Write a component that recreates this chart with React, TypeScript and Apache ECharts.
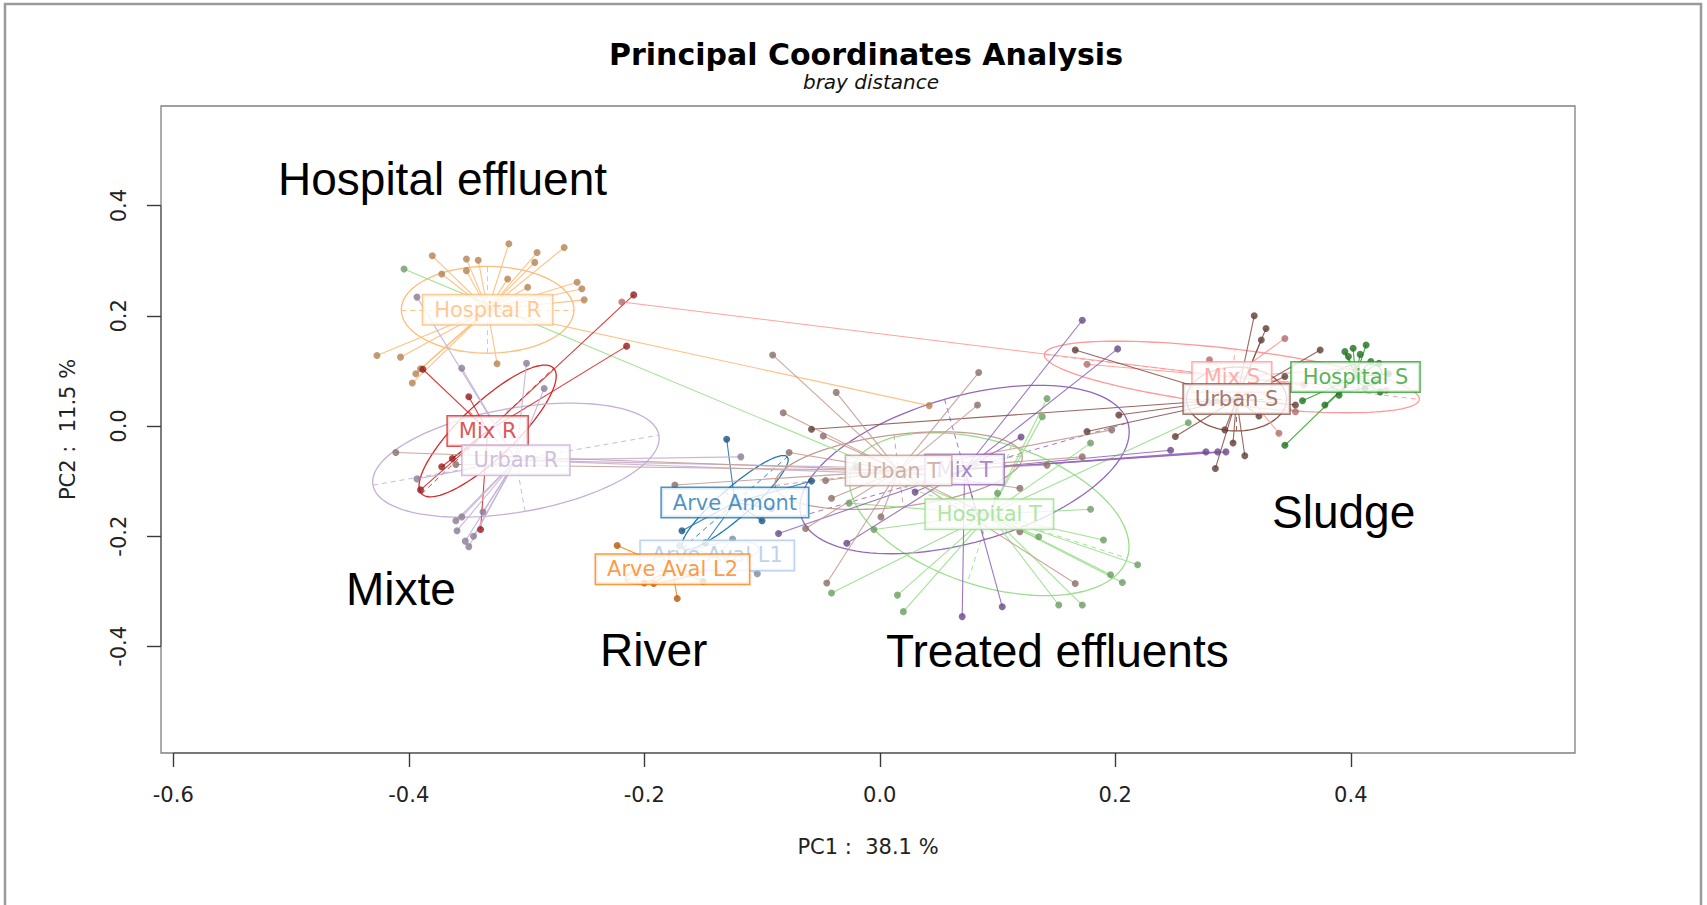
import React, { useEffect, useRef } from "react";
import * as echarts from "echarts";

type Pt = [number, number];

// Axis ranges and tick labels
const X_MIN = -0.6104;
const X_MAX = 0.5904;
const Y_MIN = -0.5936;
const Y_MAX = 0.5809;
const xTicks = [-0.6, -0.4, -0.2, 0, 0.2, 0.4];
const yTicks = [-0.4, -0.2, 0, 0.2, 0.4];

// Groups (factor levels) and their colours
const groupNames = [
  "Arve Amont", "Arve Aval L1", "Arve Aval L2",
  "Hospital R", "Hospital S", "Hospital T",
  "Mix R", "Mix S", "Mix T",
  "Urban R", "Urban S", "Urban T",
];
const groupColors = [
  "#1f77b4", "#aec7e8", "#ff7f0e",
  "#ffbb78", "#2ca02c", "#98df8a",
  "#d62728", "#ff9896", "#9467bd",
  "#c5b0d5", "#8c564b", "#c49c94",
];

// Group centroids (PC1, PC2)
const centroids: Pt[] = [
  [-0.123, -0.139], [-0.138, -0.235], [-0.176, -0.260],
  [-0.333, 0.211], [0.404, 0.089], [0.093, -0.160],
  [-0.333, -0.009], [0.299, 0.089], [0.072, -0.079],
  [-0.309, -0.062], [0.303, 0.049], [0.016, -0.081],
];

// Inertia ellipses: two conjugate semi-axes per group
const ellipseAxes: [Pt, Pt][] = [
  [[0.0444, 0.0829], [0.0084, -0.0205]],
  [[0.035, 0.015], [-0.004, 0.02]],
  [[0.04, 0.02], [-0.004, 0.018]],
  [[0.0733, 0], [0, 0.0787]],
  [[0.022, 0.012], [-0.003, 0.022]],
  [[0.1172, -0.0799], [-0.0186, -0.1245]],
  [[0.056, 0.114], [0.016, -0.036]],
  [[0.1592, -0.0408], [0.0028, 0.0505]],
  [[0.1388, 0.0846], [0.017, -0.1274]],
  [[0.1214, 0.0454], [0.0077, -0.093]],
  [[0.0425, 0], [0, 0.058]],
  [[0.105, 0.027], [0.004, -0.065]],
];

// Sample coordinates per group
const arveAmont: Pt[] = [
  [-0.130, -0.024], [-0.058, -0.100], [-0.100, -0.172], [-0.148, -0.212],
  [-0.168, -0.190], [-0.092, -0.150],
];
const arveAvalL1: Pt[] = [
  [-0.104, -0.268], [-0.170, -0.218], [-0.125, -0.205], [-0.160, -0.250],
];
const arveAvalL2: Pt[] = [
  [-0.223, -0.217], [-0.172, -0.313], [-0.200, -0.285], [-0.150, -0.282], [-0.192, -0.286],
];
const hospitalR: Pt[] = [
  [-0.315, 0.331], [-0.268, 0.324], [-0.291, 0.315], [-0.380, 0.309], [-0.351, 0.303],
  [-0.341, 0.301], [-0.293, 0.297], [-0.351, 0.282], [-0.372, 0.276], [-0.316, 0.267],
  [-0.299, 0.252], [-0.257, 0.261], [-0.253, 0.249], [-0.251, 0.229], [-0.407, 0.125],
  [-0.427, 0.128], [-0.325, 0.113], [-0.390, 0.104], [-0.394, 0.095], [-0.397, 0.078],
  [0.042, 0.037],
];
const hospitalS: Pt[] = [
  [0.395, 0.135], [0.402, 0.141], [0.413, 0.147], [0.398, 0.126], [0.408, 0.130],
  [0.417, 0.117], [0.424, 0.114], [0.425, 0.062], [0.412, 0.068], [0.390, 0.056],
  [0.378, 0.038], [0.344, -0.035], [0.359, 0.046], [0.432, 0.095], [0.420, 0.080],
];
const hospitalT: Pt[] = [
  [-0.404, 0.285], [-0.041, -0.303], [0.015, -0.307], [0.020, -0.337], [0.100, -0.122],
  [0.179, -0.151], [0.190, -0.207], [0.219, -0.252], [0.196, -0.270], [0.206, -0.284],
  [0.152, -0.325], [0.172, -0.325], [0.135, -0.201], [-0.005, -0.188], [-0.026, -0.140],
  [0.142, 0.050], [0.138, 0.017], [0.262, 0.006], [0.179, -0.031],
];
const mixR: Pt[] = [
  [-0.209, 0.238], [-0.215, 0.145], [-0.388, 0.103], [-0.349, 0.053],
  [-0.363, -0.059], [-0.372, -0.074], [-0.390, -0.116], [-0.339, -0.188],
];
const mixS: Pt[] = [
  [-0.219, 0.225], [0.176, 0.112], [0.344, 0.159], [0.339, -0.013], [0.353, 0.026],
  [0.430, 0.065], [0.405, 0.105], [0.280, 0.120], [0.360, 0.075],
];
const mixT: Pt[] = [
  [0.172, 0.192], [0.202, 0.140], [0.104, -0.328], [0.070, -0.346], [-0.028, -0.213],
  [-0.086, -0.195], [0.247, -0.044], [0.277, -0.047], [0.287, -0.047], [0.294, -0.047],
  [0.120, -0.020], [0.030, -0.120],
];
const urbanR: Pt[] = [
  [-0.393, 0.234], [-0.355, 0.105], [-0.300, 0.114], [-0.285, 0.068], [-0.393, -0.096],
  [-0.360, -0.172], [-0.355, -0.165], [-0.359, -0.190], [-0.352, -0.209], [-0.349, -0.219],
  [-0.337, -0.156], [-0.345, -0.200], [-0.118, -0.056], [-0.020, -0.075], [0.050, -0.090],
];
const urbanS: Pt[] = [
  [0.318, 0.200], [0.328, 0.177], [0.324, 0.156], [0.374, 0.138], [0.344, 0.090],
  [0.353, 0.038], [0.322, 0.018], [0.310, -0.054], [0.300, -0.031], [0.285, -0.077],
  [0.293, -0.007], [0.251, -0.019], [0.203, 0.020], [0.176, -0.010], [0.166, 0.138],
  [-0.058, -0.006],
];
const urbanT: Pt[] = [
  [-0.411, -0.048], [-0.360, -0.070], [-0.091, 0.129], [-0.037, 0.061], [-0.082, 0.024],
  [-0.077, -0.048], [-0.046, -0.099], [-0.041, -0.131], [-0.063, -0.186], [-0.174, -0.107],
  [0.001, -0.165], [0.084, 0.097], [0.083, 0.038], [-0.048, -0.018], [-0.045, -0.285],
  [0.166, -0.286], [0.142, -0.071], [0.119, -0.113], [0.119, -0.192], [0.172, -0.056],
  [0.197, -0.007],
];

const groupPoints: Pt[][] = [
  arveAmont, arveAvalL1, arveAvalL2,
  hospitalR, hospitalS, hospitalT,
  mixR, mixS, mixT,
  urbanR, urbanS, urbanT,
];

// Free-text annotations placed on the figure
const annotations = [
  { text: "Hospital effluent", x: 278, y: 179 },
  { text: "Mixte", x: 346, y: 589 },
  { text: "River", x: 600, y: 650 },
  { text: "Treated effluents", x: 886, y: 651 },
  { text: "Sludge", x: 1272, y: 512 },
];

function shade(hex: string, f: number): string {
  const n = parseInt(hex.slice(1), 16);
  const r = Math.round(((n >> 16) & 255) * f);
  const g = Math.round(((n >> 8) & 255) * f);
  const b = Math.round((n & 255) * f);
  return `rgb(${r},${g},${b})`;
}

function ellipseOutline(c: Pt, u: Pt, v: Pt): Pt[] {
  const out: Pt[] = [];
  const steps = 120;
  for (let k = 0; k <= steps; k++) {
    const t = (k / steps) * Math.PI * 2;
    out.push([
      c[0] + u[0] * Math.cos(t) + v[0] * Math.sin(t),
      c[1] + u[1] * Math.cos(t) + v[1] * Math.sin(t),
    ]);
  }
  return out;
}

function buildSeries(): any[] {
  const series: any[] = [];
  groupNames.forEach((name, i) => {
    const col = groupColors[i];
    const c = centroids[i];
    const [u, v] = ellipseAxes[i];
    series.push({
      type: "line",
      name: name + " ellipse",
      data: ellipseOutline(c, u, v),
      showSymbol: false,
      symbol: "none",
      silent: true,
      lineStyle: { color: col, width: 1.3 },
      z: 2,
    });
    series.push({
      type: "lines",
      coordinateSystem: "cartesian2d",
      silent: true,
      data: [
        { coords: [[c[0] - u[0], c[1] - u[1]], [c[0] + u[0], c[1] + u[1]]] },
        { coords: [[c[0] - v[0], c[1] - v[1]], [c[0] + v[0], c[1] + v[1]]] },
      ],
      lineStyle: { color: col, width: 1, type: [5, 4], opacity: 0.9 },
      z: 2,
    });
    series.push({
      type: "lines",
      coordinateSystem: "cartesian2d",
      silent: true,
      data: groupPoints[i].map((p) => ({ coords: [c, p] })),
      lineStyle: { color: col, width: 1.1, opacity: 0.9 },
      z: 3,
    });
    series.push({
      type: "scatter",
      name,
      data: groupPoints[i],
      symbol: "circle",
      symbolSize: 7,
      silent: true,
      itemStyle: { color: shade(col, 0.7) },
      z: 4,
    });
  });
  groupNames.forEach((name, i) => {
    const col = groupColors[i];
    series.push({
      type: "scatter",
      name: name + " label",
      data: [{ value: centroids[i], name }],
      symbolSize: 1,
      silent: true,
      itemStyle: { color: "rgba(0,0,0,0)" },
      label: {
        show: true,
        position: "inside",
        formatter: name,
        color: col,
        fontFamily: "DejaVu Sans",
        fontSize: 21,
        lineHeight: 21,
        backgroundColor: "#ffffff",
        borderColor: col,
        borderWidth: 1.5,
        padding: [4, 11],
      },
      z: 20 + i,
    });
  });
  // R-style axis segments spanning the tick range
  series.push({
    type: "lines",
    coordinateSystem: "cartesian2d",
    silent: true,
    clip: false,
    data: [
      { coords: [[xTicks[0], Y_MIN], [xTicks[xTicks.length - 1], Y_MIN]] },
      { coords: [[X_MIN, yTicks[0]], [X_MIN, yTicks[yTicks.length - 1]]] },
    ],
    lineStyle: { color: "#3a3a3a", width: 1.6 },
    z: 40,
  });
  return series;
}

export default function App() {
  const ref = useRef<HTMLDivElement>(null);

  useEffect(() => {
    if (!ref.current) return;
    const chart = echarts.init(ref.current, undefined, { renderer: "svg" });
    const axisText = { fontFamily: "DejaVu Sans", fontSize: 21, color: "#222" };
    chart.setOption({
      animation: false,
      backgroundColor: "#ffffff",
      grid: {
        left: 161,
        right: 132,
        top: 106,
        bottom: 152,
        show: true,
        borderColor: "#808080",
        borderWidth: 1.3,
        containLabel: false,
      },
      xAxis: {
        type: "value",
        min: X_MIN,
        max: X_MAX,
        splitLine: { show: false },
        axisLine: { show: false, onZero: false },
        axisTick: {
          show: true,
          customValues: xTicks,
          length: 14,
          lineStyle: { color: "#3a3a3a", width: 1.4 },
        },
        axisLabel: {
          customValues: xTicks,
          formatter: (val: number) => val.toFixed(1),
          margin: 31,
          ...axisText,
        },
        name: "PC1 :  38.1 %",
        nameLocation: "middle",
        nameGap: 83,
        nameTextStyle: axisText,
      },
      yAxis: {
        type: "value",
        min: Y_MIN,
        max: Y_MAX,
        splitLine: { show: false },
        axisLine: { show: false, onZero: false },
        axisTick: {
          show: true,
          customValues: yTicks,
          length: 14,
          lineStyle: { color: "#3a3a3a", width: 1.4 },
        },
        axisLabel: {
          customValues: yTicks,
          formatter: (val: number) => val.toFixed(1),
          rotate: 90,
          margin: 32,
          ...axisText,
        },
        name: "PC2 :  11.5 %",
        nameLocation: "middle",
        nameGap: 83,
        nameTextStyle: axisText,
      },
      graphic: [
        {
          type: "rect",
          silent: true,
          shape: { x: 5, y: 4, width: 1696, height: 1000 },
          style: { fill: "none", stroke: "#9a9a9a", lineWidth: 2.5 },
          z: 100,
        },
        {
          type: "text",
          silent: true,
          x: 866,
          y: 54,
          style: {
            text: "Principal Coordinates Analysis",
            fontFamily: "DejaVu Sans",
            fontWeight: "bold",
            fontSize: 30,
            fill: "#000",
            textAlign: "center",
            textVerticalAlign: "middle",
          },
        },
        {
          type: "text",
          silent: true,
          x: 871,
          y: 82,
          style: {
            text: "bray distance",
            fontFamily: "DejaVu Sans",
            fontStyle: "italic",
            fontSize: 20,
            fill: "#111",
            textAlign: "center",
            textVerticalAlign: "middle",
          },
        },
        ...annotations.map((a) => ({
          type: "text",
          silent: true,
          x: a.x,
          y: a.y,
          z: 110,
          style: {
            text: a.text,
            fontFamily: "Liberation Sans",
            fontSize: 46,
            fill: "#000",
            textAlign: "left",
            textVerticalAlign: "middle",
          },
        })),
      ],
      series: buildSeries(),
    });
    return () => chart.dispose();
  }, []);

  return (
    <div
      ref={ref}
      style={{ position: "fixed", left: 0, top: 0, width: 1707, height: 905, background: "#fff" }}
    />
  );
}
